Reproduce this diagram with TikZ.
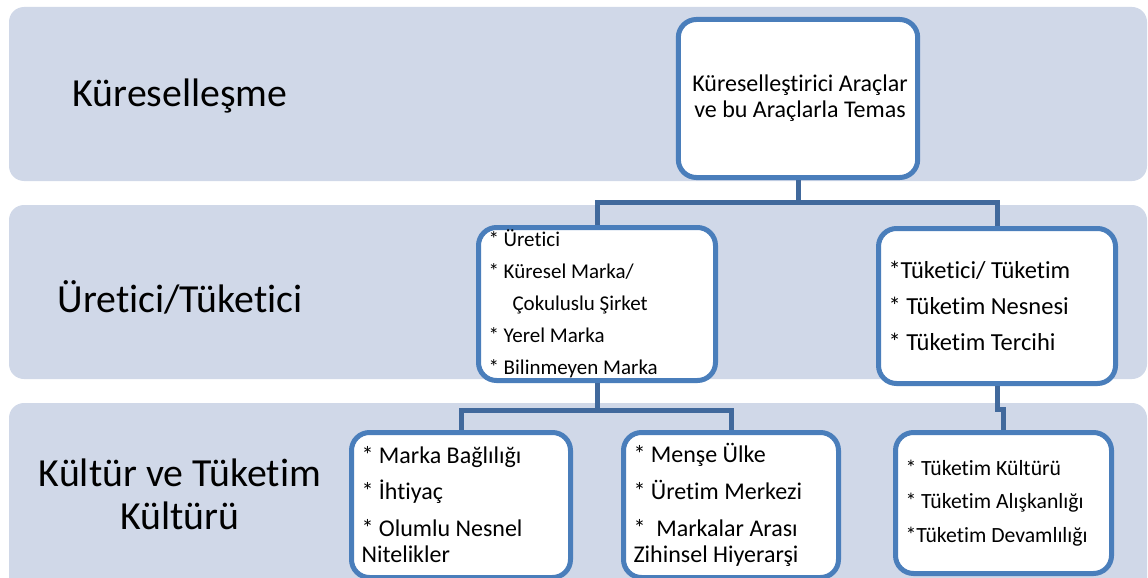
\documentclass[tikz,border=0pt]{standalone}
\usepackage{fontspec}
\setmainfont{Carlito}[Ligatures=NoCommon]
\definecolor{bandc}{HTML}{D0D8E8}
\definecolor{borderc}{HTML}{4A7EBB}
\definecolor{connc}{HTML}{41699C}
\newcommand\natsp{\spaceskip=0pt\xspaceskip=0pt\relax}
\begin{document}
\begin{tikzpicture}[x=1pt,y=-1pt,
  band/.style={fill=bandc, rounded corners=15pt},
  box/.style={draw=borderc, line width=5pt, fill=white, rounded corners=18pt, inner xsep=10pt, inner ysep=0pt, align=flush left},
  conn/.style={draw=connc, line width=5pt},
  lbl/.style={font=\fontsize{39.8}{43}\selectfont, align=center, inner sep=0pt}]
\useasboundingbox (0,0) rectangle (1148,578);
\clip (0,0) rectangle (1148,578);
\fill[band] (9,7) rectangle (1147,181);
\fill[band] (9,205) rectangle (1147,379);
\fill[band] (9,403) rectangle (1147,600);

\node[lbl] (l1) at (180,96) {\natsp Küreselleşme};
\node[lbl] (l2) at (180,297) {\natsp Üretici/Tüketici};
\node[lbl] (l3) at (180,494) {\natsp Kültür ve Tüketim\\\natsp Kültürü};

\node[box, minimum width=235pt, minimum height=158pt, align=center, font=\fontsize{24}{26}\selectfont] (top) at (798,98.5) {\natsp\hspace*{4pt}Küreselleştirici Araçlar\\\natsp\hspace*{4pt}ve bu Araçlarla Temas};

\node[box, text width=217pt, minimum height=153pt, font=\fontsize{21}{32}\selectfont] (b2) at (597,304) {\natsp{}* Üretici\\{}* Küresel Marka/\\\hspace*{24pt}Çokuluslu Şirket\\{}* Yerel Marka\\{}* Bilinmeyen Marka};

\node[box, text width=217pt, minimum height=155pt, font=\fontsize{24.5}{36}\selectfont] (b3) at (997,306) {\natsp{}*Tüketici/ Tüketim\\{}* Tüketim Nesnesi\\{}* Tüketim Tercihi};

\node[box, text width=199pt, minimum height=145pt, font=\fontsize{24}{26}\selectfont] (b4) at (461,505) {\natsp{}* Marka Bağlılığı\\[10pt]{}* İhtiyaç\\[11pt]{}* Olumlu Nesnel\\Nitelikler};

\node[box, text width=195pt, minimum height=145pt, font=\fontsize{24}{26}\selectfont] (b5) at (731,505) {\natsp{}* Menşe Ülke\\[11pt]{}* Üretim Merkezi\\[11pt]{}*\ \ Markalar Arası\\Zihinsel Hiyerarşi};

\node[box, text width=196pt, minimum height=141pt, font=\fontsize{21.7}{33.5}\selectfont] (b6) at (1003.5,503) {\natsp{}* Tüketim Kültürü\\{}* Tüketim Alışkanlığı\\{}*Tüketim Devamlılığı};

\coordinate (j1) at (798,202);
\coordinate (j2) at (597,410);
\coordinate (j3) at (997,409);
\draw[conn] (top.south) -- (j1) -| (b2.north);
\draw[conn] (j1) -| (b3.north);
\draw[conn] (b2.south) -- (j2) -| (b4.north);
\draw[conn] (j2) -| (b5.north);
\draw[conn] (b3.south) -- (j3) -| (b6.north);
\end{tikzpicture}
\end{document}
